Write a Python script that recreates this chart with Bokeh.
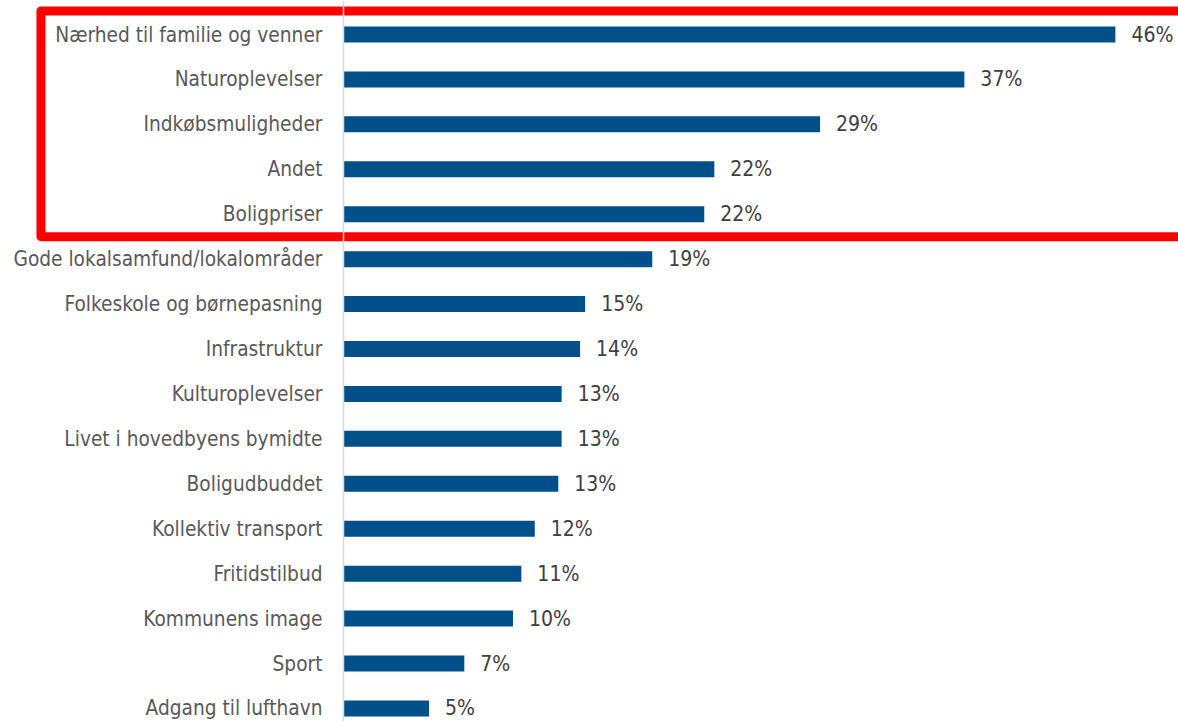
from bokeh.plotting import figure
from bokeh.models import ColumnDataSource, Range1d, Span
from bokeh.core.properties import value
from bokeh.embed import file_html
from bokeh.resources import INLINE

categories = [
    "Nærhed til familie og venner",
    "Naturoplevelser",
    "Indkøbsmuligheder",
    "Andet",
    "Boligpriser",
    "Gode lokalsamfund/lokalområder",
    "Folkeskole og børnepasning",
    "Infrastruktur",
    "Kulturoplevelser",
    "Livet i hovedbyens bymidte",
    "Boligudbuddet",
    "Kollektiv transport",
    "Fritidstilbud",
    "Kommunens image",
    "Sport",
    "Adgang til lufthavn",
]
values = [46.0, 37.0, 28.4, 22.1, 21.5, 18.4, 14.4, 14.1, 13.0, 13.0, 12.8, 11.4, 10.6, 10.1, 7.2, 5.1]
value_labels = ["46%", "37%", "29%", "22%", "22%", "19%", "15%", "14%", "13%", "13%",
                "13%", "12%", "11%", "10%", "7%", "5%"]

W, H = 1178, 721
px_per_unit_x = 16.78
zero_px = 343
px_per_row = 44.93
first_row_px = 34

x_start = -zero_px / px_per_unit_x
x_end = (W - zero_px) / px_per_unit_x
y_top = -first_row_px / px_per_row
y_bottom = (H - first_row_px) / px_per_row

src = ColumnDataSource(dict(
    y=list(range(len(categories))),
    cat=categories,
    val=values,
    lab=value_labels,
    zero=[0] * len(categories),
))

p = figure(width=W, height=H, output_backend="svg", toolbar_location=None,
           x_range=Range1d(x_start, x_end), y_range=Range1d(y_bottom, y_top),
           min_border=0, outline_line_color=None)
p.xaxis.visible = False
p.yaxis.visible = False
p.xgrid.visible = False
p.ygrid.visible = False
p.background_fill_color = "white"

p.add_layout(Span(location=0, dimension="height", line_color="#d9d9d9", line_width=1.5))

p.hbar(y="y", left=0, right="val", height=16 / px_per_row, source=src,
       fill_color="#02508a", line_color=None)

font = value("DejaVu Sans Condensed")
p.text(x="zero", y="y", text="cat", source=src, text_align="right", text_baseline="middle",
       x_offset=-21, text_font=font, text_font_size="20.7px", text_color="#595959")
p.text(x="val", y="y", text="lab", source=src, text_align="left", text_baseline="middle",
       x_offset=16, text_font=font, text_font_size="21px", text_color="#404040")

# red highlight frame around the first five rows
p.quad(left=[-18.03], right=[60], top=[-0.523], bottom=[4.5],
       fill_color=None, line_color="#ff0000", line_width=9, line_join="round")

open("out.html", "w").write(file_html(p, INLINE))
